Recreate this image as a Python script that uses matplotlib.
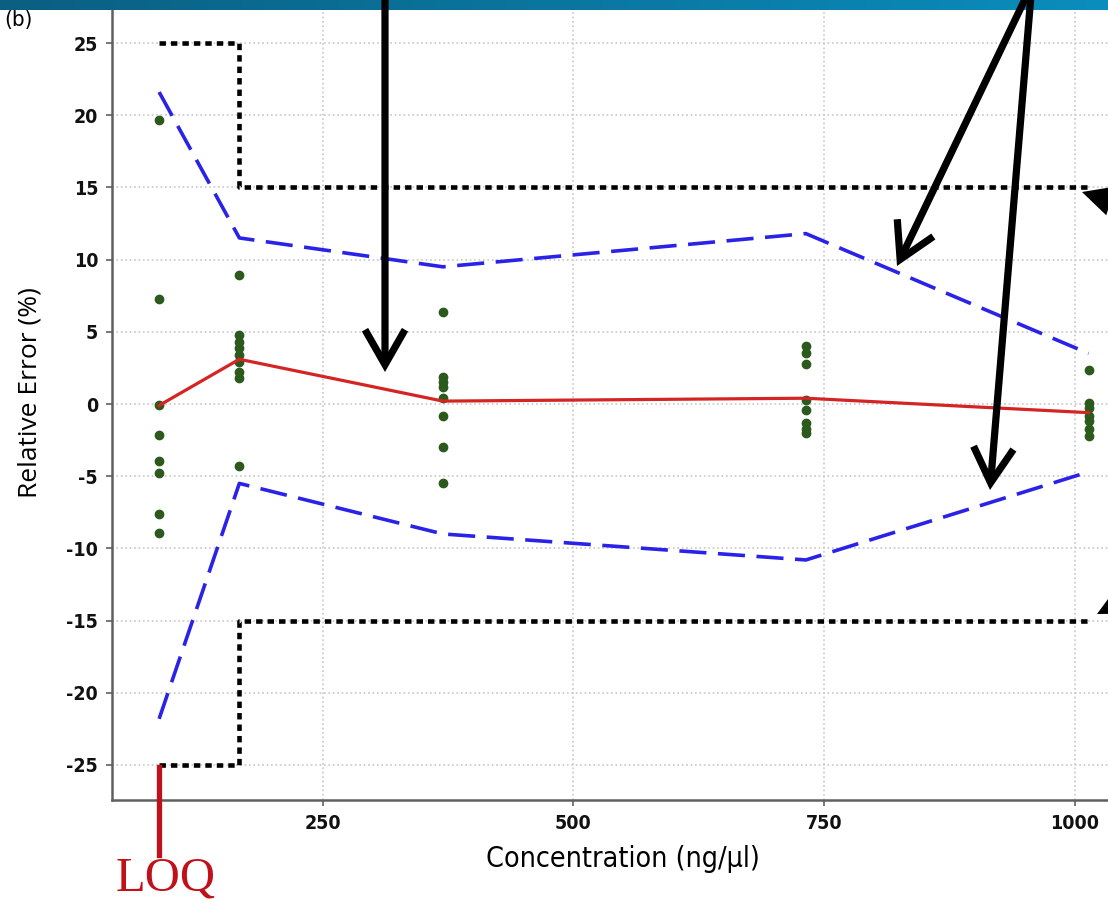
import matplotlib
matplotlib.use("Agg")
import matplotlib.pyplot as plt
import numpy as np
from matplotlib.patches import FancyArrowPatch
from matplotlib.colors import LinearSegmentedColormap

plt.rcParams["axes.unicode_minus"] = False

# ---------------- data ----------------
conc = [87, 167, 370, 732, 1014]
mean_err = [-0.1, 3.1, 0.2, 0.4, -0.6]
tol_upper = [21.6, 11.5, 9.5, 11.8, 3.5]
tol_lower = [-21.8, -5.5, -9.0, -10.8, -4.7]
acc_x = [87, 167, 1014]
acc_upper = [25, 15, 15]
acc_lower = [-25, -15, -15]
rep_L1 = [19.7, 7.25, -0.1, -2.15, -3.95, -4.8, -7.6, -8.9]
rep_L2 = [8.9, 4.8, 4.3, 3.9, 3.4, 2.9, 2.2, 1.8, -4.3]
rep_L3 = [6.4, 1.9, 1.5, 1.2, 0.4, -0.8, -3.0, -5.5]
rep_L4 = [4.0, 3.5, 2.8, 0.3, -0.4, -1.3, -1.7, -2.0]
rep_L5 = [2.35, 0.1, -0.3, -0.8, -1.2, -1.7, -2.2]
replicates = [rep_L1, rep_L2, rep_L3, rep_L4, rep_L5]
xticks = [250, 500, 750, 1000]
yticks = [-25, -20, -15, -10, -5, 0, 5, 10, 15, 20, 25]

W, H = 1108, 900
fig = plt.figure(figsize=(W / 100, H / 100), dpi=100)


def fx(x):
    return x / W


def fy(y):
    return 1 - y / H


# axes: left px 112, right px 1130, bottom px 800, top px -20
ax = fig.add_axes([fx(112), fy(800), (1130 - 112) / W, 820 / H])
ax.set_xlim(40, 40 + (1130 - 112) / 1.0027)
ax.set_ylim((404 - 800) / 14.44, (404 + 20) / 14.44)

ax.grid(True, color="#c8c8c8", linestyle=":", linewidth=1.2)
ax.set_axisbelow(True)

for xv, reps in zip(conc, replicates):
    ax.plot([xv] * len(reps), reps, "o", color="#2b5a1c", markersize=6,
            zorder=3)

ax.plot(conc, mean_err, color="#d42424", linewidth=2.3, zorder=4)
ax.plot(conc, tol_upper, color="#2a22e6", linewidth=2.6,
        linestyle=(0, (7.5, 3.2)), zorder=4)
ax.plot(conc, tol_lower, color="#2a22e6", linewidth=2.6,
        linestyle=(0, (7.5, 3.2)), zorder=4)
ax.plot(acc_x, acc_upper, color="black", linewidth=3.3, drawstyle="steps-post",
        linestyle=(0, (1.4, 1.1)), zorder=4)
ax.plot(acc_x, acc_lower, color="black", linewidth=3.3, drawstyle="steps-post",
        linestyle=(0, (1.4, 1.1)), zorder=4)

ax.set_xticks(xticks)
ax.set_yticks(yticks)
for s in ["top", "right"]:
    ax.spines[s].set_visible(False)
for s in ["left", "bottom"]:
    ax.spines[s].set_color("#606060")
    ax.spines[s].set_linewidth(1.8)
ax.tick_params(axis="both", direction="out", length=4, width=1.2,
               color="#606060", pad=6)
for lab in ax.get_xticklabels() + ax.get_yticklabels():
    lab.set_fontfamily("DejaVu Sans")
    lab.set_fontstretch("condensed")
    lab.set_fontweight("bold")
    lab.set_fontsize(14)
    lab.set_color("#111111")

ax.set_xlabel("Concentration (ng/µl)", fontsize=20.5, fontfamily="DejaVu Sans",
              fontstretch="condensed", va="center")
ax.xaxis.set_label_coords((623 - 112) / 1018, (800 - 859) / 820)
ax.set_ylabel("Relative Error (%)", fontsize=19, fontfamily="Open Sans",
              va="center")
ax.yaxis.set_label_coords((30 - 112) / 1018, (800 - 393) / 820)

# ---------------- decorations ----------------
# banner
bax = fig.add_axes([0, fy(10), 1, 10 / H])
cmap = LinearSegmentedColormap.from_list("bn", ["#0b5f82", "#0a8dbd"])
bax.imshow(np.linspace(0, 1, 256)[None, :], aspect="auto", cmap=cmap,
           extent=[0, 1, 0, 1])
bax.axis("off")

fig.text(fx(18), fy(20), "(b)", fontsize=16, ha="center", va="center",
         fontfamily="DejaVu Sans", fontstretch="condensed")


def arrow(x0, y0, x1, y1, style, lw, ms):
    a = FancyArrowPatch((fx(x0), fy(y0)), (fx(x1), fy(y1)),
                        transform=fig.transFigure, arrowstyle=style,
                        color="black", linewidth=lw, mutation_scale=ms,
                        shrinkA=0, shrinkB=0, capstyle="butt",
                        joinstyle="miter", zorder=10)
    fig.add_artist(a)


big = "->,head_length=0.42,head_width=0.24"
arrow(385, -5, 385, 372, big, 5.2, 60)
arrow(1027, -5, 897, 266, big, 5.2, 60)
arrow(1031, -5, 990, 490, big, 5.2, 60)
small = "-|>,head_length=0.7,head_width=0.35"
arrow(1140, 210, 1082, 192, small, 3.0, 24)
arrow(1140, 592, 1097, 614, small, 3.0, 24)

# LOQ marker
fig.add_artist(plt.Line2D([fx(159), fx(159)], [fy(767), fy(855)],
                          transform=fig.transFigure, color="#c0101a",
                          linewidth=3.8))
fig.text(fx(166), fy(890), "LOQ", fontsize=35, color="#c0101a",
         fontfamily="Liberation Serif", ha="center", va="baseline")

fig.savefig("out.png", dpi=100)
